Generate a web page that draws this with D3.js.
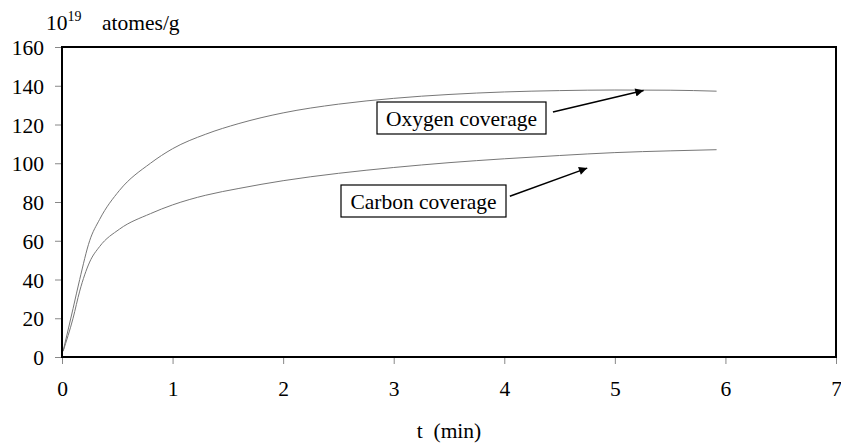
<!DOCTYPE html>
<html>
<head>
<meta charset="utf-8">
<script src="https://cdn.jsdelivr.net/npm/d3@7"></script>
<style>
  html, body { margin: 0; padding: 0; background: #fff; }
  svg { display: block; }
</style>
</head>
<body>
<svg id="chart" width="841" height="443"></svg>
<script>
// Data
const time   = [0.01, 0.1, 0.16, 0.25, 0.34, 0.52, 0.8, 1.0, 1.3, 1.6, 2.0, 2.5, 3.0, 3.5, 4.0, 4.5, 5.0, 5.5, 5.92];
const oxygen = [3, 25, 40, 60, 71, 86, 100, 107.5, 115, 120.5, 126, 130.5, 133.5, 135.5, 136.8, 137.5, 137.8, 137.7, 137.2];
const carbon = [3, 20, 34, 49, 57, 66, 74, 78.5, 83.5, 87, 91, 94.8, 97.8, 100.3, 102.3, 104, 105.5, 106.4, 107];
const xTicks = [0, 1, 2, 3, 4, 5, 6, 7];
const yTicks = [0, 20, 40, 60, 80, 100, 120, 140, 160];
const labels = ["Oxygen coverage", "Carbon coverage"];
// arrows in data units
const arrowStarts = [[4.44, 126.5], [4.05, 83]];
const arrowTips = [[5.26, 137.5], [4.75, 97.5]];

const FONT = "Liberation Serif";
const FS = 21.5;

const svg = d3.select("#chart");
const m = { left: 62, right: 836, top: 47, bottom: 357 };

const x = d3.scaleLinear().domain([0, 7]).range([m.left, m.right]);
const y = d3.scaleLinear().domain([0, 160]).range([m.bottom, m.top]);

const xAxis = d3.axisBottom(x).tickValues(xTicks).tickSize(7).tickPadding(17).tickFormat(d3.format("d"));
const yAxis = d3.axisLeft(y).tickValues(yTicks).tickSize(7).tickPadding(11).tickFormat(d3.format("d"));

const gx = svg.append("g").attr("transform", `translate(0,${m.bottom})`).call(xAxis);
const gy = svg.append("g").attr("transform", `translate(${m.left},0)`).call(yAxis);
[gx, gy].forEach(g => {
  g.attr("font-family", FONT).attr("font-size", FS);
  g.select(".domain").remove();
  g.selectAll(".tick line").attr("stroke", "#888").attr("stroke-width", 1);
  g.selectAll(".tick text").attr("fill", "#000");
});
gx.selectAll(".tick text").attr("dy", "0.71em");
gy.selectAll(".tick text").attr("dy", "0.35em");

// curves
const line = d3.line().x((d, i) => x(time[i])).y(d => y(d)).curve(d3.curveMonotoneX);
[oxygen, carbon].forEach(s => {
  svg.append("path").datum(s).attr("d", line)
    .attr("fill", "none").attr("stroke", "#777").attr("stroke-width", 1);
});

// frame
svg.append("rect").attr("x", m.left).attr("y", m.top)
  .attr("width", m.right - m.left).attr("height", m.bottom - m.top)
  .attr("fill", "none").attr("stroke", "#000").attr("stroke-width", 2);

// y-axis unit label
const unit = svg.append("text").attr("x", 46).attr("y", 30)
  .attr("font-family", FONT).attr("font-size", FS);
unit.append("tspan").text("10");
unit.append("tspan").attr("font-size", 14).attr("dy", -9).text("19");
unit.append("tspan").attr("x", 102).attr("dy", 9).text("atomes/g");

// x-axis title
svg.append("text").attr("x", x(3.5)).attr("y", 438).attr("text-anchor", "middle")
  .attr("font-family", FONT).attr("font-size", FS).style("white-space", "pre").text("t  (min)");

// arrow marker
svg.append("defs").append("marker").attr("id", "ah")
  .attr("viewBox", "0 0 10 10").attr("refX", 10).attr("refY", 5)
  .attr("markerWidth", 10).attr("markerHeight", 5.5).attr("markerUnits", "strokeWidth")
  .attr("orient", "auto")
  .append("path").attr("d", "M0,0 L10,5 L0,10 Z").attr("fill", "#000");

// annotation boxes
const boxes = [
  { x0: 377, y0: 102, w: 169, h: 32 },
  { x0: 341, y0: 185, w: 165, h: 32 }
];
labels.forEach((lab, i) => {
  const b = boxes[i];
  svg.append("rect").attr("x", b.x0).attr("y", b.y0).attr("width", b.w).attr("height", b.h)
    .attr("fill", "#fff").attr("stroke", "#000").attr("stroke-width", 1.2);
  svg.append("text").attr("x", b.x0 + b.w / 2).attr("y", b.y0 + b.h / 2).attr("dy", "0.35em")
    .attr("text-anchor", "middle").attr("font-family", FONT).attr("font-size", FS).text(lab);
  svg.append("line")
    .attr("x1", x(arrowStarts[i][0])).attr("y1", y(arrowStarts[i][1]))
    .attr("x2", x(arrowTips[i][0])).attr("y2", y(arrowTips[i][1]))
    .attr("stroke", "#000").attr("stroke-width", 1.5).attr("marker-end", "url(#ah)");
});
</script>
</body>
</html>
